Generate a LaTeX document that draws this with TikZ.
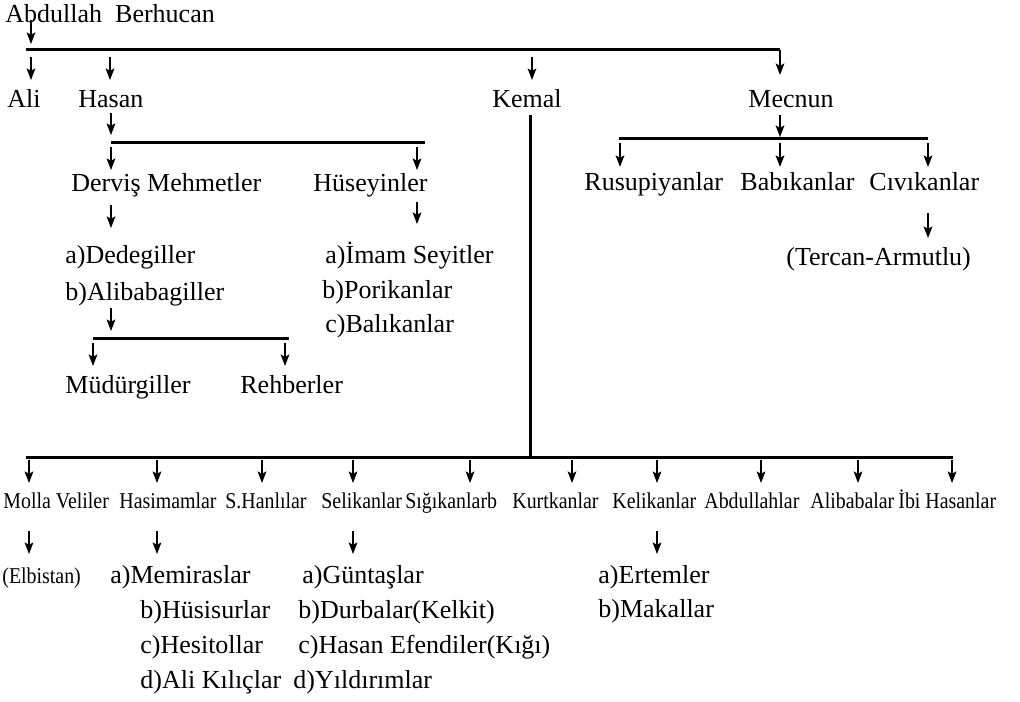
\documentclass[tikz,border=0pt]{standalone}
\usepackage{fontspec}
\setmainfont{Liberation Serif}
\newfontfamily\narrowfont[FakeStretch=0.88]{Liberation Serif}
\usetikzlibrary{arrows.meta}

\begin{document}
\begin{tikzpicture}[x=0.5pt,y=-0.5pt,
	every node/.style={inner sep=0pt,anchor=base west,font=\fontsize{13}{15}\selectfont},
	small/.style={font=\narrowfont\fontsize{11.3}{13}\selectfont},
	bar/.style={line width=1.5pt},
	arr/.style={-{Stealth[length=5.8pt,width=4.4pt,inset=1.2pt]},line width=0.55pt}]
	\useasboundingbox (0,0) rectangle (1020,701);

	% names
	\node (ab) at (5,23) {Abdullah\ \ Berhucan};
	\node (ali) at (7,107) {Ali};
	\node (hasan) at (78,107) {Hasan};
	\node (kemal) at (492,107) {Kemal};
	\node (mecnun) at (748,107) {Mecnun};

	\node (dervis) at (71,191) {Derviş Mehmetler};
	\node (huseyin) at (313,191) {Hüseyinler};
	\node (dede) at (65,263) {a)Dedegiller};
	\node (alibaba) at (65,300) {b)Alibabagiller};
	\node (mudur) at (65,393) {Müdürgiller};
	\node (rehber) at (240,393) {Rehberler};
	\node (imam) at (325,263) {a)İmam Seyitler};
	\node (pori) at (322,298) {b)Porikanlar};
	\node (balik) at (325,332) {c)Balıkanlar};

	\node (rusu) at (584,190) {Rusupiyanlar};
	\node (babik) at (740,190) {Babıkanlar};
	\node (civik) at (869,190) {Cıvıkanlar};
	\node (tercan) at (786,265) {(Tercan-Armutlu)};

	\node[small] (molla) at (3,508) {Molla Veliler};
	\node[small] (hasim) at (119,508) {Hasimamlar};
	\node[small] (shan) at (225,508) {S.Hanlılar};
	\node[small] (selik) at (321,508) {Selikanlar};
	\node[small] (sigik) at (405,508) {Sığıkanlarb};
	\node[small] (kurt) at (512,508) {Kurtkanlar};
	\node[small] (kelik) at (612,508) {Kelikanlar};
	\node[small] (abdul) at (704,508) {Abdullahlar};
	\node[small] (aliba) at (810,508) {Alibabalar};
	\node[small] (ibi) at (898,508) {İbi Hasanlar};

	\node[small] (elbis) at (2,583) {(Elbistan)};
	\node (memir) at (110,583) {a)Memiraslar};
	\node (husis) at (140,618) {b)Hüsisurlar};
	\node (hesit) at (140,653) {c)Hesitollar};
	\node (alikil) at (140,688) {d)Ali Kılıçlar};
	\node (guntas) at (302,583) {a)Güntaşlar};
	\node (durba) at (298,618) {b)Durbalar(Kelkit)};
	\node (hasanef) at (298,653) {c)Hasan Efendiler(Kığı)};
	\node (yildi) at (293,688) {d)Yıldırımlar};
	\node (ertem) at (598,583) {a)Ertemler};
	\node (makal) at (598,617) {b)Makallar};

	% bars
	\coordinate (t1) at (26,50);
	\coordinate (t2) at (780,50);
	\coordinate (h1) at (111,142);
	\coordinate (h2) at (425,142);
	\coordinate (d1) at (93,338);
	\coordinate (d2) at (289,338);
	\coordinate (m1) at (619,138);
	\coordinate (m2) at (928,138);
	\coordinate (k1) at (530,115);
	\coordinate (k2) at (530,457);
	\coordinate (b1) at (26,457);
	\coordinate (b2) at (953,457);
	\draw[bar] (t1) -- (t2);
	\draw[bar] (h1) -- (h2);
	\draw[bar] (d1) -- (d2);
	\draw[bar] (m1) -- (m2);
	\draw[bar] (k1) -- (k2);
	\draw[bar] (b1) -- (b2);

	% arrows, first level
	\coordinate (a0) at (31,20);
	\coordinate (a0') at (31,44);
	\coordinate (a1) at (31,57);
	\coordinate (a1') at (31,80);
	\coordinate (a2) at (110,57);
	\coordinate (a2') at (110,80);
	\coordinate (a3) at (532,57);
	\coordinate (a3') at (532,80);
	\coordinate (a4') at (780,75);
	\draw[arr] (a0) -- (a0');
	\draw[arr] (a1) -- (a1');
	\draw[arr] (a2) -- (a2');
	\draw[arr] (a3) -- (a3');
	\draw[arr] (t2) -- (a4');

	% Hasan
	\coordinate (c0) at (111,113);
	\coordinate (c0') at (111,135);
	\coordinate (c1) at (111,147);
	\coordinate (c1') at (111,170);
	\coordinate (c2) at (417,147);
	\coordinate (c2') at (417,170);
	\coordinate (c3) at (111,205);
	\coordinate (c3') at (111,228);
	\coordinate (c4) at (417,202);
	\coordinate (c4') at (417,224);
	\coordinate (c5) at (111,308);
	\coordinate (c5') at (111,331);
	\coordinate (c6) at (93,343);
	\coordinate (c6') at (93,366);
	\coordinate (c7) at (285,343);
	\coordinate (c7') at (285,366);
	\draw[arr] (c0) -- (c0');
	\draw[arr] (c1) -- (c1');
	\draw[arr] (c2) -- (c2');
	\draw[arr] (c3) -- (c3');
	\draw[arr] (c4) -- (c4');
	\draw[arr] (c5) -- (c5');
	\draw[arr] (c6) -- (c6');
	\draw[arr] (c7) -- (c7');

	% Mecnun
	\coordinate (e0) at (780,115);
	\coordinate (e0') at (780,137);
	\coordinate (e1) at (620,143);
	\coordinate (e1') at (620,167);
	\coordinate (e2) at (780,143);
	\coordinate (e2') at (780,167);
	\coordinate (e3) at (928,143);
	\coordinate (e3') at (928,167);
	\coordinate (e4) at (928,213);
	\coordinate (e4') at (928,238);
	\draw[arr] (e0) -- (e0');
	\draw[arr] (e1) -- (e1');
	\draw[arr] (e2) -- (e2');
	\draw[arr] (e3) -- (e3');
	\draw[arr] (e4) -- (e4');

	% Kemal
	\coordinate (f1) at (29,460);
	\coordinate (f1') at (29,483);
	\coordinate (f2) at (157,460);
	\coordinate (f2') at (157,483);
	\coordinate (f3) at (262,460);
	\coordinate (f3') at (262,483);
	\coordinate (f4) at (353,460);
	\coordinate (f4') at (353,483);
	\coordinate (f5) at (470,460);
	\coordinate (f5') at (470,483);
	\coordinate (f6) at (572,460);
	\coordinate (f6') at (572,483);
	\coordinate (f7) at (657,460);
	\coordinate (f7') at (657,483);
	\coordinate (f8) at (761,460);
	\coordinate (f8') at (761,483);
	\coordinate (f9) at (858,460);
	\coordinate (f9') at (858,483);
	\coordinate (f10) at (952,460);
	\coordinate (f10') at (952,483);
	\draw[arr] (f1) -- (f1');
	\draw[arr] (f2) -- (f2');
	\draw[arr] (f3) -- (f3');
	\draw[arr] (f4) -- (f4');
	\draw[arr] (f5) -- (f5');
	\draw[arr] (f6) -- (f6');
	\draw[arr] (f7) -- (f7');
	\draw[arr] (f8) -- (f8');
	\draw[arr] (f9) -- (f9');
	\draw[arr] (f10) -- (f10');

	\coordinate (g1) at (29,531);
	\coordinate (g1') at (29,554);
	\coordinate (g2) at (157,531);
	\coordinate (g2') at (157,554);
	\coordinate (g3) at (353,531);
	\coordinate (g3') at (353,554);
	\coordinate (g4) at (657,531);
	\coordinate (g4') at (657,554);
	\draw[arr] (g1) -- (g1');
	\draw[arr] (g2) -- (g2');
	\draw[arr] (g3) -- (g3');
	\draw[arr] (g4) -- (g4');
\end{tikzpicture}
\end{document}
